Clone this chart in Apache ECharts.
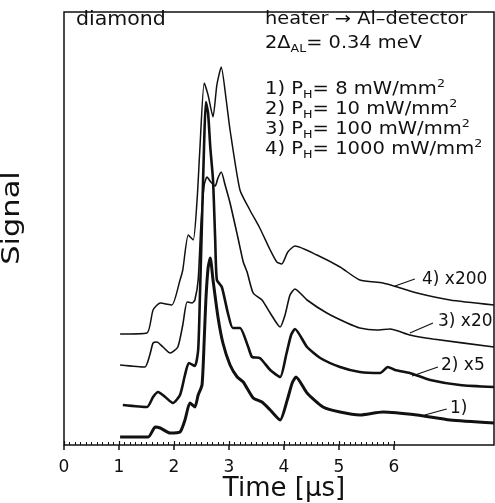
<!DOCTYPE html>
<html>
<head>
<meta charset="utf-8">
<style>
  html, body { margin: 0; padding: 0; background: #fff; }
  #container { width: 495px; height: 503px; }
</style>
</head>
<body>
<div id="container"></div>
<script src="https://cdn.jsdelivr.net/npm/echarts@6/dist/echarts.min.js"></script>
<script type="text/javascript">
// curves: [time in us, signal in arbitrary units]
var curve1 = [[1.02,0.8],[1.53,0.8],[1.66,1.8],[1.75,1.7],[1.93,1.2],[2.11,1.3],[2.2,2.5],[2.29,4.2],[2.38,3.8],[2.44,5.0],[2.51,6.0],[2.55,10.5],[2.58,14.5],[2.62,17.7],[2.66,18.7],[2.71,16.5],[2.8,12.8],[2.89,10.2],[3.02,8.0],[3.15,6.8],[3.26,6.3],[3.44,4.7],[3.6,4.3],[3.75,3.5],[3.93,2.5],[4.06,4.5],[4.15,6.2],[4.22,6.8],[4.42,5.2],[4.71,3.8],[5.02,3.3],[5.38,3.0],[5.8,3.3],[6.42,3.0],[7.02,2.5],[7.82,2.2]];
var curve2 = [[1.07,4.0],[1.51,3.8],[1.62,4.8],[1.71,5.3],[1.84,4.8],[1.98,4.2],[2.11,5.0],[2.2,7.0],[2.27,8.2],[2.38,7.9],[2.44,9.5],[2.47,14.5],[2.51,22.5],[2.55,30.5],[2.58,34.3],[2.62,33.2],[2.66,29.8],[2.71,26.5],[2.75,20.5],[2.78,16.5],[2.87,15.8],[2.98,13.2],[3.07,11.7],[3.2,11.7],[3.35,9.8],[3.42,8.8],[3.56,8.7],[3.75,7.5],[3.93,6.8],[4.04,9.0],[4.13,11.0],[4.2,11.6],[4.42,9.8],[4.66,8.7],[5.02,7.8],[5.38,7.3],[5.75,7.2],[5.89,7.8],[6.02,7.5],[6.29,7.2],[6.66,6.5],[7.2,6.0],[7.82,5.8]];
var curve3 = [[1.02,8.0],[1.47,7.8],[1.56,9.0],[1.62,10.2],[1.69,10.3],[1.8,9.8],[1.93,9.2],[2.07,9.8],[2.16,12.0],[2.24,14.3],[2.33,14.2],[2.38,14.5],[2.44,16.5],[2.49,22.0],[2.55,26.0],[2.6,26.8],[2.67,26.3],[2.75,25.9],[2.8,26.7],[2.86,27.3],[2.93,26.0],[3.02,24.2],[3.16,20.8],[3.26,18.3],[3.33,17.3],[3.44,15.2],[3.6,14.5],[3.75,13.2],[3.93,11.8],[4.02,13.0],[4.11,15.0],[4.2,15.6],[4.42,14.5],[4.78,13.2],[5.15,12.2],[5.38,11.7],[5.69,11.5],[5.93,11.6],[6.29,11.0],[6.71,10.6],[7.82,9.8]];
var curve4 = [[1.02,11.1],[1.51,11.2],[1.62,13.5],[1.75,14.2],[1.96,14.0],[2.11,16.5],[2.16,17.5],[2.26,21.0],[2.35,20.5],[2.42,24.5],[2.47,29.5],[2.55,36.2],[2.62,35.0],[2.71,32.8],[2.78,36.0],[2.86,37.8],[2.95,34.5],[3.02,31.5],[3.2,25.5],[3.38,23.5],[3.56,21.7],[3.75,19.5],[3.87,18.3],[3.96,18.1],[4.07,19.3],[4.2,19.9],[4.6,19.0],[5.02,17.8],[5.38,16.5],[5.8,16.2],[6.06,15.8],[6.42,15.2],[7.02,14.5],[7.82,14.0]];
var tickLabels = ['0', '1', '2', '3', '4', '5', '6'];

// leader lines from the curve labels to the curves
var leaders = [
    [[6.56, 3.0], [6.96, 3.6]],
    [[6.33, 6.9], [6.8, 7.8]],
    [[6.29, 11.2], [6.71, 12.2]],
    [[6.02, 15.9], [6.38, 16.6]]
];

var FONT = 'DejaVu Sans';
var INK = '#111';

var dom = document.getElementById('container');
var myChart = echarts.init(dom, null, { renderer: 'canvas' });

function curveSeries(data, width, idx) {
    return {
        type: 'line',
        data: data,
        xAxisIndex: 0,
        yAxisIndex: 0,
        showSymbol: false,
        smooth: 0.2,
        lineStyle: { color: INK, width: width },
        silent: true,
        markLine: {
            silent: true,
            symbol: 'none',
            label: { show: false },
            lineStyle: { color: INK, width: 1.2, type: 'solid' },
            data: [[{ coord: leaders[idx][0] }, { coord: leaders[idx][1] }]]
        }
    };
}

var richSub = {
    sub: { fontSize: 11, lineHeight: 12, verticalAlign: 'bottom', fontFamily: FONT, fill: INK },
    sup: { fontSize: 11, lineHeight: 12, verticalAlign: 'top', fontFamily: FONT, fill: INK }
};

// the plotter font of the original is wider than DejaVu, so stretch a bit
function note(x, y, text, size, sx) {
    return {
        type: 'text',
        x: x,
        y: y,
        scaleX: sx || 1,
        style: {
            text: text,
            fontFamily: FONT,
            fontSize: size || 18,
            lineHeight: 22,
            fill: INK,
            verticalAlign: 'middle',
            rich: richSub
        }
    };
}

var option = {
    animation: false,
    backgroundColor: '#fff',
    grid: [
        { left: 64, top: 12, right: 1, bottom: 58, show: true, borderColor: INK, borderWidth: 1.5, backgroundColor: 'transparent' },
        { left: 64, top: 12, width: 330, bottom: 58 }
    ],
    xAxis: [
        { gridIndex: 0, type: 'value', min: 0, max: 7.82, axisLine: { show: false }, axisTick: { show: false }, axisLabel: { show: false }, splitLine: { show: false } },
        {
            gridIndex: 1, type: 'value', position: 'bottom', min: 0, max: 6, interval: 1,
            axisLine: { show: false },
            axisTick: { show: true, inside: false, length: 5, lineStyle: { color: INK, width: 1.5 } },
            axisLabel: {
                margin: 14, color: INK, fontFamily: FONT, fontSize: 17,
                formatter: function (v) { return tickLabels[Math.round(v)]; }
            },
            splitLine: { show: false }
        },
        {
            gridIndex: 1, type: 'value', position: 'bottom', offset: 0, min: 0, max: 6, interval: 1,
            axisLine: { show: false },
            axisTick: { show: true, inside: true, length: 4, lineStyle: { color: INK, width: 1.2 } },
            minorTick: { show: true, splitNumber: 10, length: 3, lineStyle: { color: INK, width: 1 } },
            axisLabel: { show: false },
            splitLine: { show: false }
        }
    ],
    yAxis: [
        { gridIndex: 0, type: 'value', min: 0, max: 43.3, axisLine: { show: false }, axisTick: { show: false }, axisLabel: { show: false }, splitLine: { show: false } },
        { gridIndex: 1, type: 'value', show: false }
    ],
    series: [
        curveSeries(curve1, 3, 0),
        curveSeries(curve2, 2.6, 1),
        curveSeries(curve3, 1.6, 2),
        curveSeries(curve4, 1.5, 3)
    ],
    graphic: [
        note(76, 20, 'diamond', 19, 1.08),
        note(265, 20, 'heater → Al–detector', 17, 1.14),
        note(265, 44, '2Δ{sub|AL}= 0.34 meV', 17, 1.14),
        note(265, 90, '1) P{sub|H}= 8 mW/mm{sup|2}', 17, 1.15),
        note(265, 110, '2) P{sub|H}= 10 mW/mm{sup|2}', 17, 1.15),
        note(265, 130, '3) P{sub|H}= 100 mW/mm{sup|2}', 17, 1.15),
        note(265, 150, '4) P{sub|H}= 1000 mW/mm{sup|2}', 17, 1.15),
        note(422, 280, '4) x200', 17),
        note(438, 322, '3) x20', 17),
        note(441, 366, '2) x5', 17),
        note(450, 409, '1)', 17),
        {
            type: 'text', x: 284, y: 489,
            style: { text: 'Time [µs]', fontFamily: FONT, fontSize: 26, fill: INK, align: 'center', verticalAlign: 'middle' }
        },
        {
            type: 'text', x: 13, y: 218, rotation: Math.PI / 2, scaleX: 1.27,
            style: { text: 'Signal', fontFamily: FONT, fontSize: 24, fill: INK, align: 'center', verticalAlign: 'middle' }
        }
    ]
};

myChart.setOption(option);
window.addEventListener('resize', myChart.resize);
</script>
</body>
</html>
